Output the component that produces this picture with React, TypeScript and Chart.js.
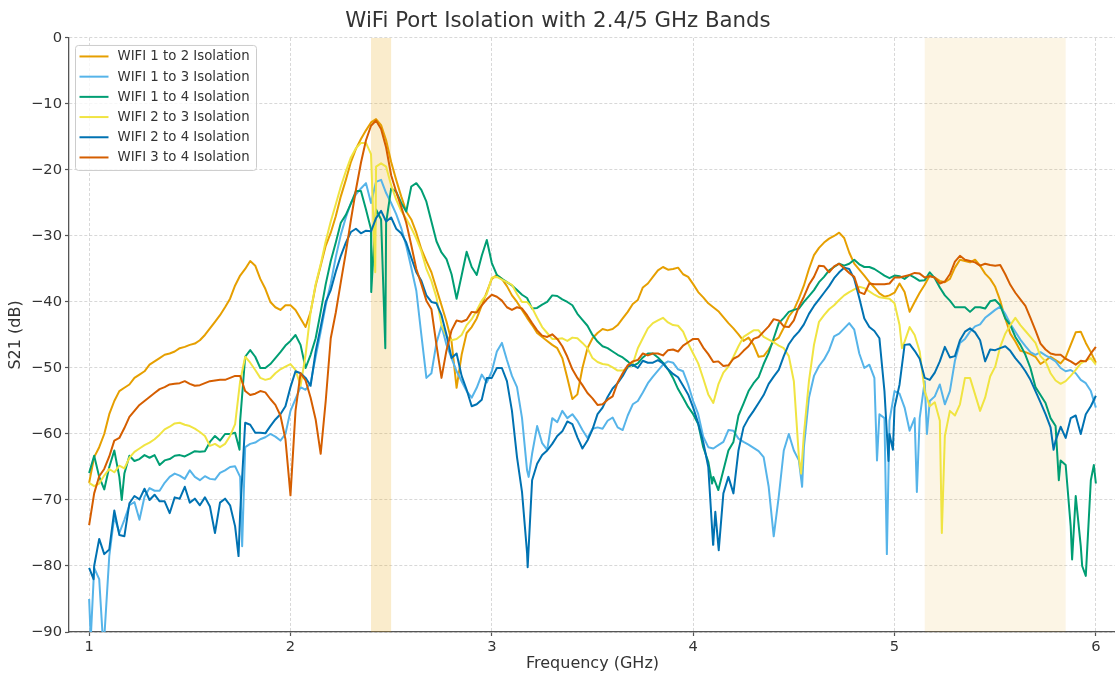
import React, { useEffect, useRef } from "react";
import { Chart, registerables } from "chart.js";

Chart.register(...registerables);

// Frequency sweep (GHz)
const freqGHz = [
  1, 1.025, 1.05, 1.075, 1.1, 1.125, 1.15, 1.175, 1.2, 1.225,
  1.25, 1.275, 1.3, 1.325, 1.35, 1.375, 1.4, 1.425, 1.45, 1.475,
  1.5, 1.525, 1.55, 1.575, 1.6, 1.625, 1.65, 1.675, 1.7, 1.725,
  1.75, 1.775, 1.8, 1.825, 1.85, 1.875, 1.9, 1.925, 1.95, 1.975,
  2, 2.025, 2.05, 2.075, 2.1, 2.125, 2.15, 2.175, 2.2, 2.225,
  2.25, 2.275, 2.3, 2.325, 2.35, 2.375, 2.4, 2.425, 2.45, 2.475,
  2.5, 2.525, 2.55, 2.575, 2.6, 2.625, 2.65, 2.675, 2.7, 2.725,
  2.75, 2.775, 2.8, 2.825, 2.85, 2.875, 2.9, 2.925, 2.95, 2.975,
  3, 3.025, 3.05, 3.075, 3.1, 3.125, 3.15, 3.175, 3.2, 3.225,
  3.25, 3.275, 3.3, 3.325, 3.35, 3.375, 3.4, 3.425, 3.45, 3.475,
  3.5, 3.525, 3.55, 3.575, 3.6, 3.625, 3.65, 3.675, 3.7, 3.725,
  3.75, 3.775, 3.8, 3.825, 3.85, 3.875, 3.9, 3.925, 3.95, 3.975,
  4, 4.025, 4.05, 4.075, 4.1, 4.125, 4.15, 4.175, 4.2, 4.225,
  4.25, 4.275, 4.3, 4.325, 4.35, 4.375, 4.4, 4.425, 4.45, 4.475,
  4.5, 4.525, 4.55, 4.575, 4.6, 4.625, 4.65, 4.675, 4.7, 4.725,
  4.75, 4.775, 4.8, 4.825, 4.85, 4.875, 4.9, 4.925, 4.95, 4.975,
  5, 5.025, 5.05, 5.075, 5.1, 5.125, 5.15, 5.175, 5.2, 5.225,
  5.25, 5.275, 5.3, 5.325, 5.35, 5.375, 5.4, 5.425, 5.45, 5.475,
  5.5, 5.525, 5.55, 5.575, 5.6, 5.625, 5.65, 5.675, 5.7, 5.725,
  5.75, 5.775, 5.8, 5.825, 5.85, 5.875, 5.9, 5.925, 5.95, 5.975,
  6,
];

// S21 (dB) per port pair
const wifi12 = [
  -67.4, -63.5, -62, -60, -57, -55, -53.5, -53, -52.5, -51.5,
  -51, -50.5, -49.5, -49, -48.5, -48, -47.8, -47.5, -47, -46.8,
  -46.5, -46.3, -45.8, -45, -44, -43, -42, -40.8, -39.5, -37.5,
  -36, -35, -33.8, -34.5, -36.5, -38, -40, -40.8, -41.2, -40.5,
  -40.5, -41.2, -42.5, -43.8, -41.5, -37.5, -34.5, -31.5, -29.5, -27,
  -24, -21.5, -18.8, -16.8, -15.3, -14, -12.8, -12.3, -13.2, -15.5,
  -18.8, -21.5, -24, -26.3, -27.5, -29.5, -32, -33.8, -35.5, -38,
  -40.5, -43, -46, -53, -48, -44.7, -43.8, -42.5, -40.5, -38.5,
  -36.5, -35.9, -36.5, -37.6, -39, -40, -41.2, -42.4, -43.5, -44.7,
  -45.3, -45.9, -46.5, -47, -48.5, -51.5, -54.7, -54, -50, -47,
  -45.5, -44.7, -44.1, -44.3, -44.1, -43.5, -42.5, -41.5, -40.3, -39.7,
  -37.8, -37.2, -36.2, -35.2, -34.7, -35.1, -35, -34.8, -35.8, -36.2,
  -37.3, -38.5, -39.3, -40.2, -40.8, -41.4, -42.3, -43.2, -44, -44.9,
  -45.9, -45.4, -46.5, -48.3, -48.2, -47.2, -45.9, -45.4, -43.9, -42.2,
  -41.2, -39.5, -37.5, -35, -32.9, -31.8, -31, -30.4, -30, -29.5,
  -30.3, -32.5, -34.2, -35.1, -36, -37, -37.8, -38.7, -39.2, -39,
  -38.6, -37.2, -38.5, -41.5, -40, -38.6, -37.4, -36, -36.3, -36.8,
  -37, -36.5, -34.8, -33.6, -33.8, -34, -33.6, -34.5, -35.7, -36.5,
  -37.7, -39.8, -42.5, -44.8, -46, -47.4, -47.6, -47.9, -48.3, -49.4,
  -48.9, -48.3, -48.8, -49.3, -48.4, -46.5, -44.6, -44.5, -46.2, -47.6,
  -49.2,
];
const wifi13 = [
  -85, -80.3, -82, -91, -78.5, -72.5, -75, -73, -70.8, -70.3,
  -73, -69.5, -68.2, -68.6, -68.6, -67.4, -66.5, -66, -66.3, -66.8,
  -65.5, -66.5, -67, -66.4, -66.8, -66.9, -65.9, -65.5, -65, -64.9,
  -66.5, -62, -61.5, -61.3, -60.8, -60.5, -60, -60.4, -61, -60,
  -56.5, -54.7, -52.9, -53.3, -52.3, -48.3, -44.5, -40.5, -37.2, -33.2,
  -29.8, -27.2, -25, -23.7, -22.8, -22, -25, -21.8, -21.5, -23.5,
  -25, -26.7, -28.8, -31.5, -34.8, -38.3, -45, -51.5, -50.8, -46.2,
  -43.6, -46.5, -48.5, -50.5, -52, -53.5, -54.5, -53, -51, -52.2,
  -50.5, -47.5, -46.2, -48.8, -51.2, -52.9, -57.6, -65.5, -63, -58.8,
  -61.4, -62.4, -57.6, -58.2, -56.5, -57.6, -57, -58, -59.4, -60.6,
  -59.2, -59, -59.2, -58, -57.5, -59, -59.4, -57.2, -55.5, -55,
  -53.7, -52.3, -51.3, -50.4, -49.5, -49, -49.2, -50.2, -50.5, -52.5,
  -55, -57, -60.4, -62, -62.2, -61.7, -61.2, -59.4, -59.5, -60.7,
  -61.2, -61.6, -62.1, -62.6, -63.5, -68, -75.5, -69.5, -62.5, -60,
  -62.5, -64, -62, -54.5, -51.2, -49.7, -48.7, -47.3, -45.2, -44.8,
  -44, -43.2, -44.2, -47.8, -50, -49.5, -51.5, -57, -57.6, -58,
  -53.5, -53.9, -56, -59.5, -57.6, -57.6, -52, -55, -54.3, -52.5,
  -55.5, -53.5, -48.9, -46.2, -45.6, -44.5, -43.7, -43.4, -42.4, -41.8,
  -41.2, -40.7, -41.8, -43.3, -44.5, -45.7, -46.7, -47.6, -48, -47.6,
  -48.1, -48.5, -49, -50, -50.5, -50.3, -50.8, -51.8, -52.3, -53.5,
  -56,
];
const wifi14 = [
  -65.9, -63.3, -66.5, -68.4, -65, -62.5, -66.5, -66, -63.3, -64.1,
  -63.8, -63.2, -63.6, -63.2, -64.7, -64, -63.8, -63.3, -63.2, -63.4,
  -63, -62.6, -62.7, -62.6, -61.2, -60.3, -61, -60, -60, -59.8,
  -58, -48.3, -47.3, -48.3, -50, -50, -49.4, -48.5, -47.6, -46.6,
  -45.9, -45, -46.5, -50, -48, -45.5, -41.5, -37.3, -33.8, -31,
  -28, -26.8, -25.1, -23.2, -23.2, -26, -29, -26, -27.5, -28,
  -22.8, -23.3, -25, -26.3, -22.5, -22, -23, -24.8, -27.8, -30.8,
  -32.5, -33.5, -35.8, -39.5, -36, -32.4, -34.7, -35.9, -33, -30.6,
  -34.1, -35.9, -36.5, -37, -37.5, -38.2, -38.9, -39.4, -41, -40.9,
  -40.4, -40, -39, -39.1, -39.6, -40, -40.5, -41.8, -42.7, -43.6,
  -45, -46, -46.7, -47, -47.5, -48, -48.4, -49, -49.7, -49.3,
  -48.4, -47.8, -47.8, -48.4, -49.2, -50.2, -51.5, -53.2, -54.5, -55.9,
  -57, -58.5, -62, -64.2, -66.5, -68.5, -65.5, -62.5, -61.2, -57.2,
  -55.4, -53.5, -52.3, -51.4, -49.4, -47.7, -45.5, -43.2, -42.4, -41.5,
  -41.2, -41, -40, -39.1, -38.2, -37, -36.2, -35.2, -34.7, -34.2,
  -34.5, -34.2, -33.6, -34.3, -34.7, -34.7, -35, -35.5, -36, -36.4,
  -36, -36.1, -36.5, -35.9, -36.3, -36.8, -36.7, -35.5, -36.4, -37.8,
  -39, -39.8, -40.8, -40.8, -40.8, -41.5, -40.8, -40.8, -41, -39.9,
  -39.7, -40.5, -42.5, -43.5, -45.3, -46.5, -48, -50, -52.9, -54.1,
  -55.3, -57.6, -58.8, -64, -64.7, -74, -69.4, -77, -81.5, -67,
  -67.5,
];
const wifi23 = [
  -67.4, -67.9, -67.5, -66.3, -65.3, -65.8, -64.8, -65.2, -63.6, -62.7,
  -62.2, -61.7, -61.3, -60.8, -60.1, -59.3, -58.9, -58.4, -58.3, -58.6,
  -58.8, -59.2, -59.7, -60.3, -61.8, -61.5, -62, -61.5, -60.3, -58.5,
  -52, -48.3, -49.2, -50.3, -51.5, -51.8, -51.6, -50.8, -50.2, -49.8,
  -49.4, -50.3, -52.7, -48, -41.5, -37.3, -34.3, -30.8, -27.8, -25.2,
  -22.5, -20.2, -18.1, -16.7, -15.9, -15.9, -17.6, -19.5, -19, -19.5,
  -22.3, -24.5, -26.2, -27.4, -28.8, -30.4, -32.3, -35, -36.8, -39.3,
  -43.5, -45.2, -45.8, -45.6, -45, -43.5, -42.6, -41.3, -39.8, -38.8,
  -36.3, -36.2, -36.6, -37, -37.4, -38.8, -40, -40, -40.9, -42.4,
  -43.8, -44.7, -45.6, -45.6, -45.5, -45.9, -45.4, -45.5, -46.2, -47,
  -48.5, -49.1, -49.4, -49.5, -49.9, -50.4, -50.4, -50, -49.4, -47,
  -45.5, -44, -43.2, -42.8, -42.4, -43.1, -43.5, -43.6, -44.5, -46.3,
  -47.8, -49.3, -51.6, -54, -55.3, -52.5, -50.7, -49.8, -48.3, -46.7,
  -45.3, -44.8, -44.3, -44.3, -45.3, -45.7, -46.1, -46.6, -47, -48.2,
  -52, -63.5, -60, -52, -46.5, -43, -42, -41.1, -40.5, -39.7,
  -39, -38.5, -38.1, -37.7, -37.9, -38.4, -38.9, -39.3, -39.4, -39.5,
  -40.2, -43.5, -46, -43.8, -45, -47.5, -53.5, -55.8, -55.2, -58,
  -60.3, -56.5, -57.2, -55.5, -51.5, -51.5, -54, -56.5, -54.5, -51.3,
  -49.8, -46.8, -44.8, -43.5, -42.4, -43.5, -44.4, -45.3, -46.2, -48.2,
  -49, -50.8, -51.9, -52.4, -52, -51.2, -50.3, -49.3, -48.9, -48.5,
  -49.5,
];
const wifi24 = [
  -80.3, -80, -75.9, -78.2, -77.5, -71.6, -75.3, -75.5, -70.5, -69.4,
  -69.9, -68.3, -70, -69.2, -70.2, -70.2, -72, -69.6, -69.8, -68,
  -70.4, -69.8, -70.8, -69.6, -71, -75, -70.4, -69.8, -70.8, -74,
  -72, -58.3, -58.6, -59.8, -59.8, -59.9, -58.8, -57.8, -57, -55.8,
  -52.9, -50.5, -50.8, -51.5, -52.7, -47.5, -43.8, -40, -38.2, -35.4,
  -33, -31, -29.4, -28.9, -29.6, -29.2, -29.3, -27.3, -26.2, -27.8,
  -27.2, -28.9, -29.6, -31, -33.3, -35.5, -36.8, -39, -40, -40.2,
  -42, -45, -48.5, -47.8, -51.2, -53.3, -55.8, -55.5, -54.8, -51.5,
  -51.5, -50, -50, -52, -56.5, -63.5, -68.8, -78, -67, -64.5,
  -63.2, -62.5, -61.5, -60.3, -59.6, -58.1, -58.5, -60.5, -62.2, -61,
  -59.3, -57, -56, -54.4, -53.1, -52.3, -51.2, -49.8, -49.5, -50,
  -48.9, -49.2, -49.2, -48.8, -49.3, -50.2, -50.9, -51.4, -52.7, -54,
  -56, -58.4, -61.2, -65, -76.5, -77, -69, -66.5, -69, -62.5,
  -59, -57.6, -56.5, -55.3, -54.1, -52.4, -51.3, -50.3, -48.2, -46.4,
  -45.3, -44.5, -43.4, -41.8, -40.6, -39.6, -38.6, -37.6, -36.4, -35.5,
  -34.8, -35, -36.5, -39.4, -42.5, -43.8, -44.4, -45.5, -53.5, -60,
  -56, -52.5, -46.5, -46.4, -47.4, -48.6, -51.5, -51.8, -50.7, -49,
  -46.8, -48.4, -48.2, -45.8, -44.5, -44, -44.6, -45.8, -49, -47.2,
  -47.3, -47, -46.7, -47.4, -48.5, -49.4, -50.5, -51.8, -53.5, -55.2,
  -57, -59, -61, -58.9, -60.6, -57.6, -57.2, -60, -57, -55.8,
  -54.2,
];
const wifi34 = [
  -73.8, -69, -66.4, -65.3, -63.4, -61, -60.6, -59.1, -57.4, -56.5,
  -55.6, -55, -54.4, -53.8, -53.2, -52.9, -52.5, -52.4, -52.3, -52,
  -52.4, -52.7, -52.6, -52.3, -52, -51.9, -51.8, -51.8, -51.5, -51.2,
  -51.2, -53.5, -54.1, -53.9, -53.5, -53.7, -54.7, -55.6, -57.2, -60.8,
  -69.3, -56.5, -50.8, -51.9, -54.5, -57.8, -63, -55, -45.5, -41.6,
  -37, -32.5, -27.6, -23, -18.9, -15.5, -13.3, -12.5, -13.8, -16.6,
  -20.8, -23.3, -25.6, -28, -31.4, -35, -37.3, -39.8, -41.1, -46.5,
  -51.5, -47.3, -44.3, -42.8, -43, -42.7, -41.5, -41.6, -40.5, -39.6,
  -38.9, -39.2, -39.8, -40.8, -41.2, -40.8, -41, -42, -43.2, -44.3,
  -45.1, -45.3, -44.9, -45.6, -46.7, -48.3, -50.2, -51.5, -52.6, -53.8,
  -54.6, -55.6, -55.5, -54.8, -54.3, -52.2, -50.8, -49.6, -49, -48.8,
  -47.8, -48.1, -47.8, -47.8, -48.1, -47.3, -47.2, -47.5, -46.6, -46.1,
  -45.6, -45.6, -46.9, -47.9, -49.1, -49, -49.7, -49.6, -48.6, -48.2,
  -47.4, -46.7, -45.6, -45.3, -44.5, -43.7, -42.6, -42.8, -43.7, -43.8,
  -42.8, -40.7, -39.2, -37.4, -36.2, -34.5, -34.6, -35.5, -34.6, -34.2,
  -34.9, -35.6, -36.2, -38.5, -38.8, -37.2, -37.3, -37.3, -37.3, -37.2,
  -36.3, -36.3, -36.1, -35.9, -35.6, -35.7, -36.3, -36.1, -36.3, -37.2,
  -36.9, -35.8, -33.9, -33, -33.6, -33.8, -34, -34.5, -34.2, -34.4,
  -34.5, -34.4, -35.8, -37.4, -38.6, -39.6, -40.6, -42.4, -44.3, -46.3,
  -47.2, -47.8, -48, -48, -48.6, -49, -49.5, -48.9, -49, -47.8,
  -46.8,
];

// Narrow resonance spikes read between the sweep points: [GHz, dB]
const spikes12: number[][] = [];
const spikes13 = [[1.008, -91], [1.068, -91], [1.76, -77], [3.183, -66.5], [4.541, -68], [4.913, -64], [4.962, -78.2], [5.111, -68.8], [5.161, -60]];
const spikes14 = [[1.162, -70], [1.747, -62.4], [2.401, -38.5], [2.471, -47], [4.094, -67.5], [5.816, -67], [5.882, -79], [5.932, -80], [5.99, -64.7]];
const spikes23 = [[2.421, -35.5], [4.536, -66], [5.037, -47], [5.235, -75]];
const spikes24 = [[1.022, -82], [1.742, -78.5], [3.178, -80.2], [4.099, -76.8], [4.11, -71.8], [4.127, -77.6], [4.97, -64.1], [4.992, -62.4], [5.79, -62.4]];
const spikes34: number[][] = [];

const seriesLabels = [
  "WIFI 1 to 2 Isolation",
  "WIFI 1 to 3 Isolation",
  "WIFI 1 to 4 Isolation",
  "WIFI 2 to 3 Isolation",
  "WIFI 2 to 4 Isolation",
  "WIFI 3 to 4 Isolation",
];
const seriesValues = [wifi12, wifi13, wifi14, wifi23, wifi24, wifi34];
const seriesSpikes = [spikes12, spikes13, spikes14, spikes23, spikes24, spikes34];
const seriesColors = ["#E69F00", "#56B4E9", "#009E73", "#F0E442", "#0072B2", "#D55E00"];

const xTicks = [1, 2, 3, 4, 5, 6];
const yTicks = [0, -10, -20, -30, -40, -50, -60, -70, -80, -90];
const wifiBands = [[2.4, 2.5], [5.15, 5.85]];
const bandColors = ["rgba(230,159,0,0.2)", "rgba(230,159,0,0.1)"];

const FONT = "'DejaVu Sans', sans-serif";
const TEXT = "#333333";

function buildPoints(values: number[], extra: number[][]) {
  const pts = freqGHz.map((f, i) => ({ x: f, y: values[i] }));
  extra.forEach(([x, y]) => pts.push({ x, y }));
  pts.sort((a, b) => a.x - b.x);
  return pts;
}

const bandPlugin = {
  id: "bands",
  beforeDatasetsDraw(chart: any) {
    const { ctx, chartArea, scales } = chart;
    ctx.save();
    wifiBands.forEach(([a, b], i) => {
      const x1 = scales.x.getPixelForValue(a);
      const x2 = scales.x.getPixelForValue(b);
      ctx.fillStyle = bandColors[i];
      ctx.fillRect(x1, chartArea.top, x2 - x1, chartArea.bottom - chartArea.top);
    });
    ctx.restore();
  },
};

const legendPlugin = {
  id: "boxLegend",
  afterDraw(chart: any) {
    const { ctx, chartArea } = chart;
    const x0 = chartArea.left + 6.5;
    const y0 = chartArea.top + 7.5;
    const w = 181;
    const h = 125;
    const r = 3;
    ctx.save();
    ctx.beginPath();
    ctx.moveTo(x0 + r, y0);
    ctx.lineTo(x0 + w - r, y0);
    ctx.arcTo(x0 + w, y0, x0 + w, y0 + r, r);
    ctx.lineTo(x0 + w, y0 + h - r);
    ctx.arcTo(x0 + w, y0 + h, x0 + w - r, y0 + h, r);
    ctx.lineTo(x0 + r, y0 + h);
    ctx.arcTo(x0, y0 + h, x0, y0 + h - r, r);
    ctx.lineTo(x0, y0 + r);
    ctx.arcTo(x0, y0, x0 + r, y0, r);
    ctx.closePath();
    ctx.fillStyle = "rgba(255,255,255,0.8)";
    ctx.fill();
    ctx.strokeStyle = "#cccccc";
    ctx.lineWidth = 1;
    ctx.stroke();
    ctx.font = `13.3px ${FONT}`;
    ctx.textBaseline = "middle";
    ctx.textAlign = "left";
    seriesLabels.forEach((label, i) => {
      const y = y0 + 11 + i * 20.2;
      ctx.strokeStyle = seriesColors[i];
      ctx.lineWidth = 2;
      ctx.beginPath();
      ctx.moveTo(x0 + 4, y);
      ctx.lineTo(x0 + 33, y);
      ctx.stroke();
      ctx.fillStyle = TEXT;
      ctx.fillText(label, x0 + 42, y + 0.5);
    });
    ctx.restore();
  },
};

export default function App() {
  const ref = useRef<HTMLCanvasElement>(null);

  useEffect(() => {
    const canvas = ref.current;
    if (!canvas) return;
    const n = seriesLabels.length;
    const chart = new Chart(canvas, {
      type: "line",
      data: {
        datasets: seriesLabels.map((label, i) => ({
          label,
          data: buildPoints(seriesValues[i], seriesSpikes[i]),
          borderColor: seriesColors[i],
          backgroundColor: seriesColors[i],
          borderWidth: 2,
          pointRadius: 0,
          tension: 0,
          fill: false,
          borderJoinStyle: "round" as const,
          order: n - 1 - i,
        })),
      },
      options: {
        responsive: false,
        animation: false,
        devicePixelRatio: 1,
        events: [],
        layout: { padding: { left: 0, right: 4, top: 0, bottom: 0 } },
        plugins: {
          legend: { display: false },
          tooltip: { enabled: false },
          title: {
            display: true,
            text: "WiFi Port Isolation with 2.4/5 GHz Bands",
            color: TEXT,
            font: { family: FONT, size: 21.3, weight: "normal" },
            padding: { top: 9, bottom: 3.4 },
          },
        },
        scales: {
          x: {
            type: "linear",
            min: 0.9,
            max: 6.1,
            afterFit: (s: any) => {
              s.height = 45;
            },
            afterBuildTicks: (s: any) => {
              s.ticks = xTicks.map((v) => ({ value: v }));
            },
            ticks: {
              color: TEXT,
              font: { family: FONT, size: 14.7 },
              padding: 2,
              maxRotation: 0,
              callback: (v: any) => String(v),
            },
            grid: {
              color: "rgba(190,190,190,0.75)",
              lineWidth: 0.8,
              tickLength: 4,
              tickColor: "#555555",
              tickWidth: 1.2,
            },
            border: { display: true, color: "#555555", width: 1.3, dash: [3, 2] },
            title: {
              display: true,
              text: "Frequency (GHz)",
              color: TEXT,
              font: { family: FONT, size: 16 },
              padding: { top: 0, bottom: 3.4 },
            },
          },
          y: {
            type: "linear",
            min: -90,
            max: 0,
            afterFit: (s: any) => {
              s.width = 69;
            },
            afterBuildTicks: (s: any) => {
              s.ticks = yTicks.map((v) => ({ value: v }));
            },
            ticks: {
              color: TEXT,
              font: { family: FONT, size: 14.7 },
              padding: 3,
              callback: (v: any) => String(v).replace("-", "\u2212"),
            },
            grid: {
              color: "rgba(190,190,190,0.75)",
              lineWidth: 0.8,
              tickLength: 4,
              tickColor: "#555555",
              tickWidth: 1.2,
            },
            border: { display: true, color: "#555555", width: 1.3, dash: [3, 2] },
            title: {
              display: true,
              text: "S21 (dB)",
              color: TEXT,
              font: { family: FONT, size: 16 },
              padding: { top: 6.4, bottom: 0 },
            },
          },
        },
      },
      plugins: [bandPlugin, legendPlugin],
    } as any);
    return () => chart.destroy();
  }, []);

  return (
    <div style={{ position: "fixed", left: 0, top: 0, width: 1120, height: 677, background: "#ffffff" }}>
      <canvas ref={ref} width={1120} height={677} style={{ display: "block", width: 1120, height: 677 }} />
    </div>
  );
}
